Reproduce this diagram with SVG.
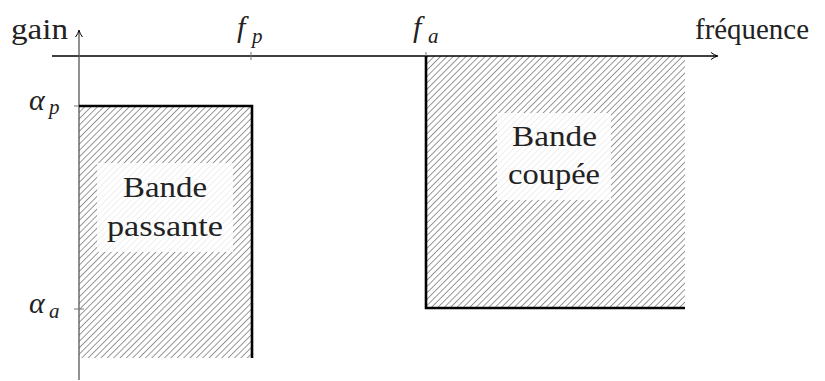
<svg xmlns="http://www.w3.org/2000/svg" width="825" height="381" viewBox="0 0 825 381">
<style>
.t{font-family:"Liberation Serif","DejaVu Serif",serif;font-size:29px;fill:#222}
.m{font-family:"Liberation Serif","DejaVu Serif",serif;font-style:italic;font-size:30px;fill:#222}
.s{font-family:"Liberation Serif","DejaVu Serif",serif;font-style:italic;font-size:21px;fill:#222}
.ax{stroke:#000;stroke-width:1.3;fill:none}
.vax{stroke:#555;stroke-width:1.3;fill:none}
.tick{stroke:#777;stroke-width:1}
.bd{stroke:#000;stroke-width:2.6;fill:none}
.lb{fill:#fff;fill-opacity:0.85}
</style>
<defs>
<pattern id="hatch" patternUnits="userSpaceOnUse" width="4.5" height="4.5" patternTransform="rotate(45)">
<line x1="0" y1="0" x2="0" y2="4.5" stroke="#444" stroke-width="1.1"/>
</pattern>
<marker id="arr" markerWidth="8" markerHeight="8" refX="6" refY="4" orient="auto" markerUnits="userSpaceOnUse">
<path d="M0,0.5 Q3,3 7,4 Q3,5 0,7.5" fill="none" stroke="#000" stroke-width="1"/>
</marker>
</defs>
<g id="hatched-areas">
<rect x="79" y="106" width="173" height="252" fill="url(#hatch)"/>
<rect x="426" y="56" width="259" height="252" fill="url(#hatch)"/>
</g>
<g id="connectors">
<line class="ax" x1="52" y1="56" x2="717" y2="56" marker-end="url(#arr)"/>
<line class="vax" x1="79" y1="380" x2="79" y2="31" marker-end="url(#arr)"/>
<line class="tick" x1="251" y1="52" x2="251" y2="60"/>
<line class="tick" x1="426" y1="52" x2="426" y2="60"/>
<line class="tick" x1="74" y1="106" x2="84" y2="106"/>
<line class="tick" x1="74" y1="309" x2="84" y2="309"/>
<polyline class="bd" points="79,106 252,106 252,358"/>
<polyline class="bd" points="426,56 426,308 685,308"/>
</g>
<g id="axis-labels">
<text class="t" x="11" y="39" textLength="57" lengthAdjust="spacingAndGlyphs">gain</text>
<text class="t" x="695" y="39" textLength="114" lengthAdjust="spacingAndGlyphs">fréquence</text>
<text class="m" x="237" y="37">f</text><text class="s" x="252" y="43">p</text>
<text class="m" x="413" y="37">f</text><text class="s" x="428" y="43">a</text>
<text class="m" x="29" y="110">α</text><text class="s" x="49" y="114">p</text>
<text class="m" x="29" y="313">α</text><text class="s" x="49" y="318">a</text>
</g>
<g id="band-pass">
<rect class="lb" x="97" y="163" width="136" height="89"/>
<text class="t" x="123" y="197" textLength="84" lengthAdjust="spacingAndGlyphs">Bande</text>
<text class="t" x="107" y="236" textLength="116" lengthAdjust="spacingAndGlyphs">passante</text>
</g>
<g id="band-stop">
<rect class="lb" x="497" y="113" width="114" height="87"/>
<text class="t" x="512" y="146" textLength="85" lengthAdjust="spacingAndGlyphs">Bande</text>
<text class="t" x="508" y="184" textLength="92" lengthAdjust="spacingAndGlyphs">coupée</text>
</g>
</svg>
